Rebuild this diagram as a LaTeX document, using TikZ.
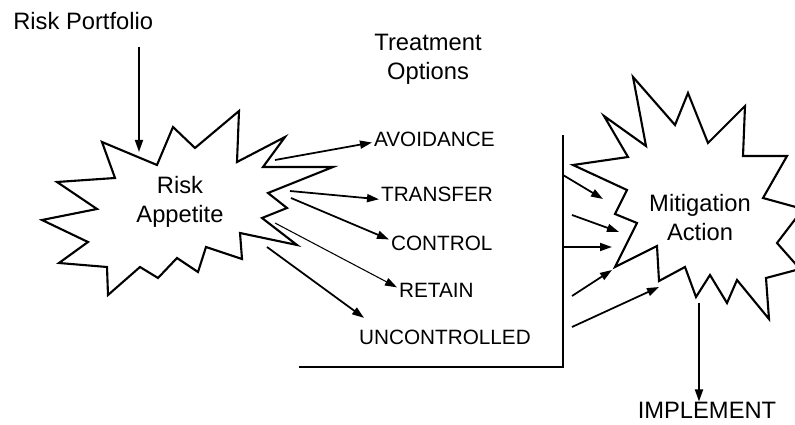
\documentclass[tikz,border=0pt]{standalone}
\usepackage{fontspec}
\setmainfont{Liberation Sans}
\usetikzlibrary{arrows.meta}

\tikzset{
  burst/.style={draw, line width=1.2pt, line join=miter},
  lbl/.style={font=\fontsize{13.5}{16.5}\selectfont, align=center, inner sep=0pt},
  opt/.style={font=\fontsize{11.8}{14}\selectfont, anchor=west, inner sep=1pt},
  arr/.style={-{Triangle[length=2.4mm,width=1.6mm]}, line width=1pt},
}

\begin{document}
\begin{tikzpicture}[x=0.02cm, y=-0.02cm]
    \useasboundingbox (0,0) rectangle (795,425);
    \clip (0,0) rectangle (795,425);
    \draw[burst] (102,142) -- (157,165) -- (173,127) -- (195,148) -- (239,111) -- (237,162) -- (285,137)
        -- (263,167) -- (333,167) -- (268,193) -- (287,208) -- (262,218) -- (297,245) -- (240,233)
        -- (242,259) -- (206,247) -- (198,272) -- (177,258) -- (158,278) -- (140,267) -- (108,295)
        -- (107,267) -- (59,263) -- (88,242) -- (42,220) -- (97,209) -- (57,182) -- (115,178) -- cycle;
    \draw[burst] (633,77) -- (675,125) -- (688,93) -- (708,143) -- (745,106) -- (743,156) -- (787,156)
        -- (763,198) -- (803,209) -- (777,243) -- (800,269) -- (766,278) -- (769,319) -- (737,280)
        -- (727,303) -- (710,275) -- (696,297) -- (685,267) -- (659,281) -- (657,246) -- (615,267)
        -- (637,223) -- (615,214) -- (627,190) -- (573,165) -- (628,157) -- (604,116) -- (646,146) -- cycle;
    \draw[line width=1.2pt] (299,367) -- (563,367) -- (563,135);

    \node[lbl, anchor=west] (portfolio) at (13,21) {Risk Portfolio};
    \node[lbl] (treatment) at (428,59) {Treatment\\Options};
    \node[lbl] (appetite) at (180,202) {Risk\\Appetite};
    \node[lbl] (mitigation) at (700,218) {Mitigation\\Action};
    \node[lbl] (implement) at (707,410) {IMPLEMENT};
    \node[opt] (avoid) at (372,139) {AVOIDANCE};
    \node[opt] (transfer) at (379,194) {TRANSFER};
    \node[opt] (control) at (389,243) {CONTROL};
    \node[opt] (retain) at (397,290) {RETAIN};
    \node[opt] (uncontrolled) at (357,337) {UNCONTROLLED};

    \coordinate (rp) at (139,47);
    \coordinate (ra) at (139,152);
    \draw[arr] (rp) -- (ra);
    \coordinate (ra1) at (275,160);
    \coordinate (ra2) at (290,191);
    \coordinate (ra3) at (291,198);
    \coordinate (ra4) at (275,223);
    \coordinate (ra5) at (267,247);
    \draw[arr] (ra1) -- ([yshift=-2pt]avoid.west);
    \draw[arr] (ra2) -- ([yshift=-3pt]transfer.west);
    \draw[arr] (ra3) -- ([yshift=2pt]control.west);
    \draw[arr, line width=0.6pt] (ra4) -- ([yshift=1.5pt]retain.west);
    \draw[arr] (ra5) -- ([xshift=4pt,yshift=5.5pt]uncontrolled.north west);

    \coordinate (b1) at (563,175);
    \coordinate (b2) at (572,215);
    \coordinate (b3) at (563,247);
    \coordinate (b4) at (572,296);
    \coordinate (b5) at (572,327);
    \coordinate (m1) at (603,199);
    \coordinate (m2) at (619,232);
    \coordinate (m3) at (612,247);
    \coordinate (m4) at (612,270);
    \coordinate (m5) at (659,287);
    \foreach \i in {1,...,5}
        \draw[arr] (b\i) -- (m\i);

    \coordinate (ma) at (699,303);
    \draw[arr] (ma) -- (implement.north -| ma);
\end{tikzpicture}
\end{document}
